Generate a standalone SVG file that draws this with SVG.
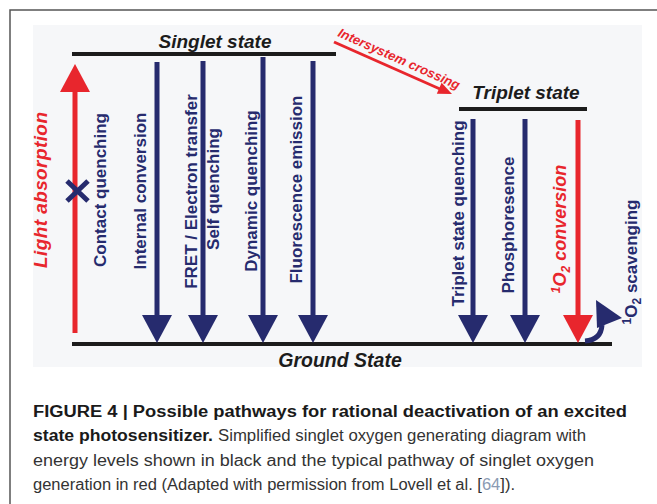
<svg xmlns="http://www.w3.org/2000/svg" width="657" height="504" viewBox="0 0 657 504">
<style>
.lvl{stroke:#1c1c1c;stroke-width:4;fill:none}
.lvlt{font-family:"Liberation Sans",Arial,sans-serif;font-weight:bold;font-style:italic;fill:#1c1c1c}
.bl{stroke:#262b6e;stroke-width:5;fill:none}
.bh{fill:#262b6e}
.rl{stroke:#e8262d;stroke-width:5;fill:none}
.rh{fill:#e8262d}
.vt{font-family:"Liberation Sans",Arial,sans-serif;font-weight:bold;font-size:17px;fill:#262b6e;text-anchor:middle}
.vr{font-family:"Liberation Sans",Arial,sans-serif;font-weight:bold;font-style:italic;fill:#e8262d;text-anchor:middle}
.isc{font-family:"Liberation Sans",Arial,sans-serif;font-weight:bold;font-style:italic;font-size:13px;fill:#e8262d;text-anchor:start}
.cap{font-family:"Liberation Sans",Arial,sans-serif;font-size:16px;fill:#333}
.capb{font-family:"Liberation Sans",Arial,sans-serif;font-size:16px;font-weight:bold;fill:#1a1a1a}
</style>
<rect width="657" height="504" fill="#ffffff"/>
<path d="M10,504 V10 H657" stroke="#555" stroke-width="1.5" fill="none"/>
<rect x="33" y="25" width="609" height="342" fill="#f6f7f9"/>

<g id="singlet-state">
<line class="lvl" x1="72" y1="54" x2="336" y2="54"/>
<text class="lvlt" x="215" y="48" font-size="19" text-anchor="middle">Singlet state</text>
</g>
<g id="triplet-state">
<line class="lvl" x1="459" y1="109" x2="587" y2="109"/>
<text class="lvlt" x="526" y="99" font-size="19" text-anchor="middle">Triplet state</text>
</g>
<g id="ground-state">
<line class="lvl" x1="72" y1="344" x2="612" y2="344"/>
<text class="lvlt" x="340" y="367" font-size="19.5" text-anchor="middle">Ground State</text>
</g>

<g id="connectors">
<g id="light-absorption">
<line class="rl" x1="75" y1="333" x2="75" y2="90"/>
<polygon class="rh" points="60,92 90,92 75,64"/>
<path d="M67,181 L88,201 M88,181 L67,201" stroke="#262b6e" stroke-width="5" fill="none"/>
</g>
<g id="internal-conversion"><line class="bl" x1="157" y1="62" x2="157" y2="316"/><polygon class="bh" points="142,315 172,315 157,343"/></g>
<g id="fret-self"><line class="bl" x1="203" y1="61" x2="203" y2="316"/><polygon class="bh" points="188,315 218,315 203,343"/></g>
<g id="dynamic"><line class="bl" x1="263" y1="57" x2="263" y2="316"/><polygon class="bh" points="248,315 278,315 263,343"/></g>
<g id="fluorescence"><line class="bl" x1="313" y1="61" x2="313" y2="316"/><polygon class="bh" points="298,315 328,315 313,343"/></g>
<g id="triplet-quench"><line class="bl" x1="473" y1="119" x2="473" y2="316"/><polygon class="bh" points="458,315 488,315 473,343"/></g>
<g id="phosph"><line class="bl" x1="525" y1="119" x2="525" y2="316"/><polygon class="bh" points="510,315 540,315 525,343"/></g>
<g id="o2-conversion"><line class="rl" x1="578" y1="120" x2="578" y2="316"/><polygon class="rh" points="563,315 593,315 578,343"/></g>
<g id="scavenging">
<path d="M585,341 Q601,340 602,325" stroke="#262b6e" stroke-width="5" fill="none"/>
<polygon class="bh" points="596,300 622,318 597,328"/>
</g>
<g id="isc">
<line x1="334" y1="42" x2="440" y2="89" stroke="#e8262d" stroke-width="3"/>
<polygon class="rh" points="452,94 436.8,93.8 441.6,82.8"/>
</g>
</g>

<g id="labels">
<text class="vr" font-size="19" textLength="156" transform="translate(47,190) rotate(-90)">Light absorption</text>
<text class="vt" transform="translate(106,190) rotate(-90)">Contact quenching</text>
<text class="vt" transform="translate(146,191) rotate(-90)">Internal conversion</text>
<text class="vt" transform="translate(197,191.5) rotate(-90)">FRET / Electron transfer</text>
<text class="vt" transform="translate(219,189) rotate(-90)">Self quenching</text>
<text class="vt" transform="translate(257,191) rotate(-90)">Dynamic quenching</text>
<text class="vt" transform="translate(302,189.5) rotate(-90)">Fluorescence emission</text>
<text class="vt" transform="translate(464,213.5) rotate(-90)">Triplet state quenching</text>
<text class="vt" transform="translate(514,225) rotate(-90)">Phosphoresence</text>
<text class="vr" font-size="18" transform="translate(566,229) rotate(-90)"><tspan font-size="12" dy="-6">1</tspan><tspan dy="6">O</tspan><tspan font-size="12" dy="4">2</tspan><tspan dy="-4"> conversion</tspan></text>
<text class="vt" transform="translate(637,262) rotate(-90)"><tspan font-size="12" dy="-6">1</tspan><tspan dy="6">O</tspan><tspan font-size="12" dy="4">2</tspan><tspan dy="-4"> scavenging</tspan></text>
<text class="isc" x="0" y="0" textLength="132" transform="translate(337,36) rotate(24)">Intersystem crossing</text>
</g>

<g id="caption">
<text class="capb" x="33" y="417" textLength="594" lengthAdjust="spacingAndGlyphs">FIGURE 4 | Possible pathways for rational deactivation of an excited</text>
<text class="capb" x="33" y="441" textLength="180" lengthAdjust="spacingAndGlyphs">state photosensitizer.</text>
<text class="cap" x="218" y="441" textLength="368" lengthAdjust="spacingAndGlyphs">Simplified singlet oxygen generating diagram with</text>
<text class="cap" x="33" y="466" textLength="561" lengthAdjust="spacingAndGlyphs">energy levels shown in black and the typical pathway of singlet oxygen</text>
<text class="cap" x="33" y="490" textLength="482" lengthAdjust="spacingAndGlyphs">generation in red (Adapted with permission from Lovell et al. [<tspan fill="#8a9bb3">64</tspan>]).</text>
</g>
</svg>
